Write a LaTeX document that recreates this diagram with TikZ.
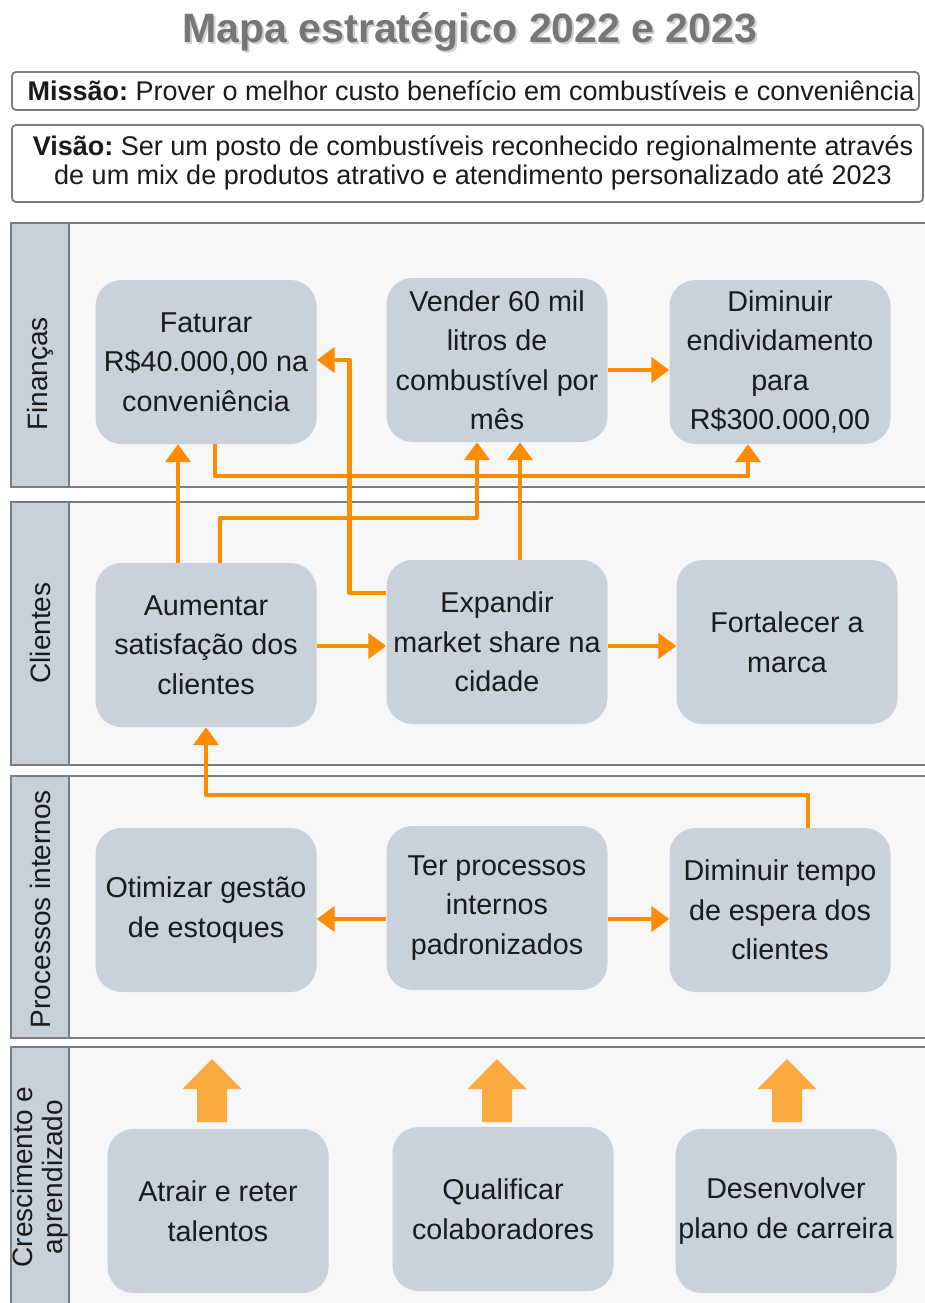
\documentclass[tikz,border=0pt]{standalone}
\usepackage{fontspec}
\setmainfont{Liberation Sans}
\usetikzlibrary{arrows.meta,calc}
\definecolor{boxbg}{HTML}{C9D1DB}
\definecolor{lanebg}{HTML}{F7F7F7}
\definecolor{laneln}{HTML}{7C7C7C}
\definecolor{hdrbg}{HTML}{C8D0DA}
\definecolor{orng}{HTML}{FF8C00}
\definecolor{blk}{HTML}{FBAA3F}
\definecolor{ttl}{HTML}{767676}
\definecolor{txt}{HTML}{1A1A1A}
\tikzset{
  bx/.style={fill=boxbg, rounded corners=26pt, minimum width=221pt, minimum height=164pt,
    align=center, inner sep=0pt, text=txt, font=\fontsize{28.7}{39.5}\selectfont},
  arr/.style={draw=orng, line width=4.5pt, line join=round,
    -{Triangle[length=18pt,width=25pt]}},
  lane/.style={draw=laneln, line width=2.5pt, fill=lanebg},
  hdr/.style={draw=laneln, line width=1.5pt, fill=hdrbg},
  hdrtxt/.style={rotate=90, text=txt, align=center, font=\fontsize{28}{30}\selectfont},
  topbox/.style={draw=laneln, line width=1.8pt, fill=white, rounded corners=4pt},
  toptxt/.style={text=txt, align=center, font=\fontsize{27}{28.5}\selectfont}
}
\begin{document}
\begin{tikzpicture}[x=1pt,y=-1pt]
\useasboundingbox (0,0) rectangle (924,1303);
\fill[white] (0,0) rectangle (924,1303);
% title
\node[anchor=base, text=ttl!35, font=\fontsize{41}{45}\selectfont\bfseries] at (472,44.5) {Mapa estratégico 2022 e 2023};
\node[anchor=base, text=ttl, font=\fontsize{41}{45}\selectfont\bfseries] (title) at (470,42.5) {Mapa estratégico 2022 e 2023};
% mission / vision
\draw[topbox] (12,72) rectangle (919,110);
\node[toptxt] (mis) at (471,91) {\textbf{Missão:}~Prover o melhor custo benefício em combustíveis e conveniência};
\draw[topbox] (12,125) rectangle (923,202);
\node[toptxt] (vis) at (473,163) {\textbf{Visão:}~Ser um posto de combustíveis reconhecido regionalmente através\\de um mix de produtos atrativo e atendimento personalizado até 2023};
% lanes
\draw[lane] (11,223) rectangle (940,487);
\draw[hdr] (11,223) rectangle (69,487);
\node[hdrtxt] (lfin) at (40,374) {Finanças};
\draw[lane] (11,502) rectangle (940,765);
\draw[hdr] (11,502) rectangle (69,765);
\node[hdrtxt] (lcli) at (40,633) {Clientes};
\draw[lane] (11,776) rectangle (940,1038);
\draw[hdr] (11,776) rectangle (69,1038);
\node[hdrtxt] (lpro) at (40,909) {Processos internos};
\draw[lane] (11,1047) rectangle (940,1320);
\draw[hdr] (11,1047) rectangle (69,1320);
\node[hdrtxt] (lcre) at (40,1177) {Crescimento e\\aprendizado};
% finance boxes
\node[bx] (fat) at (206,362) {Faturar\\R\$40.000,00 na\\conveniência};
\node[bx] (ven) at (497,360) {Vender 60 mil\\litros de\\combustível por\\mês};
\node[bx] (dim) at (780,362) {Diminuir\\endividamento\\para\\R\$300.000,00};
% clients
\node[bx] (aum) at (206,645) {Aumentar\\satisfação dos\\clientes};
\node[bx] (exp) at (497,642) {Expandir\\market share na\\cidade};
\node[bx] (for) at (787,642) {Fortalecer a\\marca};
% processes
\node[bx] (oti) at (206,910) {Otimizar gestão\\de estoques};
\node[bx] (ter) at (497,908) {Ter processos\\internos\\padronizados};
\node[bx] (dtp) at (780,910) {Diminuir tempo\\de espera dos\\clientes};
% growth
\node[bx] (atr) at (218,1211) {Atrair e reter\\talentos};
\node[bx] (qua) at (503,1209) {Qualificar\\colaboradores};
\node[bx] (des) at (786,1211) {Desenvolver\\plano de carreira};
% block arrows
\foreach \cx in {212,497,787}{
  \fill[blk] (\cx-15,1122) -- (\cx-15,1089) -- (\cx-29.5,1089) -- (\cx,1059)
    -- (\cx+29.5,1089) -- (\cx+15,1089) -- (\cx+15,1122) -- cycle;
}
% connectors
\draw[arr] ([xshift=9pt]fat.south) -- ++(0,32) -| ([xshift=-32pt]dim.south);
\draw[arr] ([yshift=49pt]exp.west) -- ++(-37,0) |- ([yshift=2pt]fat.east);
\draw[arr] ([xshift=-28pt]aum.north) -- ([xshift=-28pt]fat.south);
\draw[arr] ([xshift=14pt]aum.north) -- ++(0,-45) -| ([xshift=-20pt]ven.south);
\draw[arr] ([xshift=23pt]exp.north) -- ([xshift=23pt]ven.south);
\draw[arr] ([yshift=-10pt]ven.east) -- ([yshift=-8pt]dim.west);
\draw[arr] ([yshift=-1pt]aum.east) -- ([yshift=-4pt]exp.west);
\draw[arr] ([yshift=-4pt]exp.east) -- ([yshift=-4pt]for.west);
\draw[arr] ([xshift=28pt]dtp.north) -- ++(0,-33) -| (aum.south);
\draw[arr] ([yshift=-11pt]ter.west) -- ([yshift=-9pt]oti.east);
\draw[arr] ([yshift=-11pt]ter.east) -- ([yshift=-9pt]dtp.west);
\end{tikzpicture}
\end{document}
